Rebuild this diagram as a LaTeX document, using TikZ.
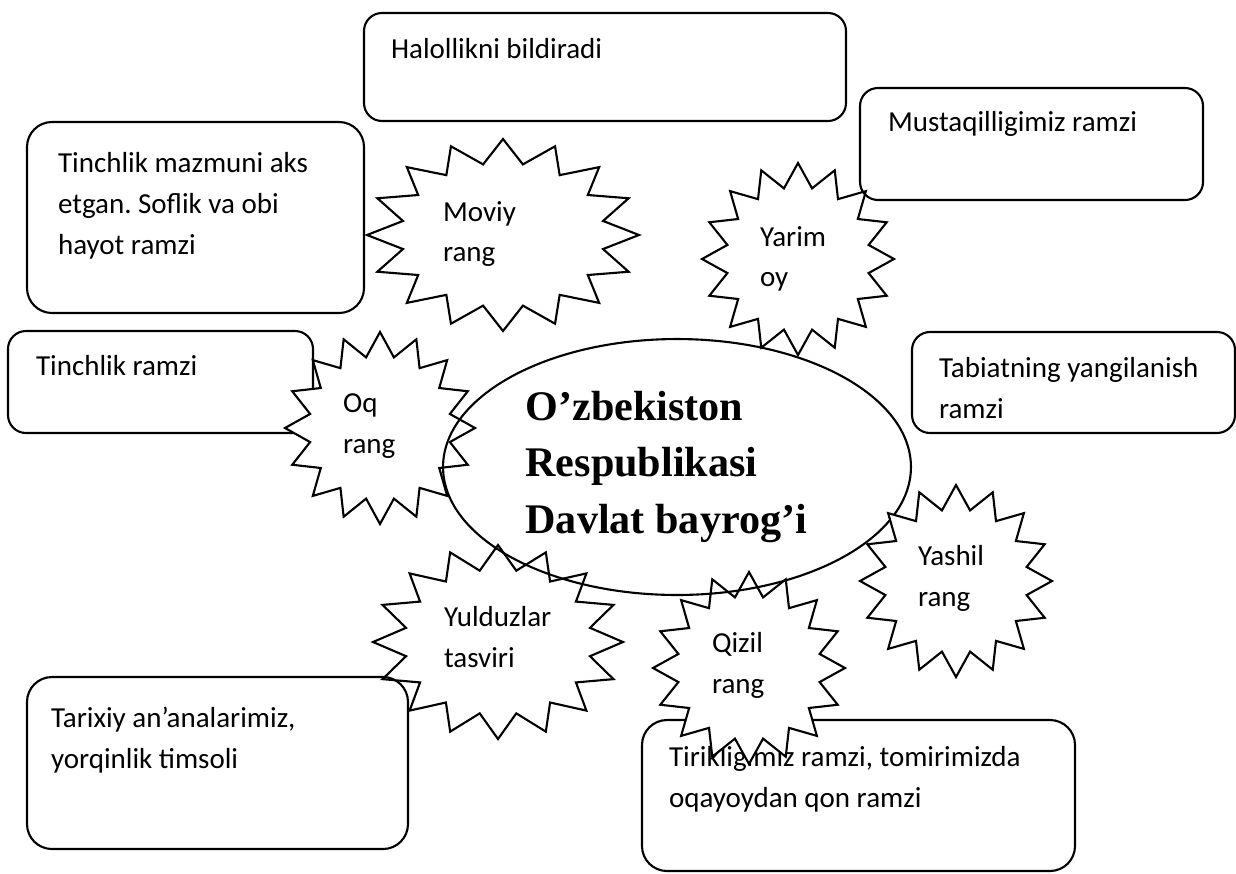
\documentclass[tikz,border=0pt]{standalone}
\usepackage{fontspec}
\setmainfont{Carlito}
\newfontfamily\titlefont{Liberation Serif}
\usepackage{tikz}
\usetikzlibrary{positioning,fit,shapes.geometric}
\frenchspacing

% 16-point star: [options]{centre}{x radius}{y radius}
\newcommand{\burst}[4][]{%
  \draw[burstline,#1,shift={#2}] (90:#3 and #4)
    \foreach \k [evaluate=\k as \f using {ifthenelse(mod(\k,2)==1,0.75,1)}] in {1,...,31} {
      -- (90+\k*11.25:\f*#3 and \f*#4)}
    -- cycle;}

\begin{document}
\begin{tikzpicture}[
    x=0.02cm, y=-0.02cm,
    line width=1.2pt,
    note/.style={draw, rounded corners=0.36cm, inner sep=0pt},
    bignote/.style={note, rounded corners=0.5cm},
    txt/.style={font=\fontsize{16.5}{23.3}\selectfont, align=left, inner sep=0pt, anchor=north west},
    burstline/.style={line join=miter},
    flagbox/.style={ellipse, draw, minimum width=9.36cm, minimum height=5.12cm, inner sep=0pt,
        text width=6.06cm, align=flush left, font=\titlefont\bfseries\fontsize{24}{31.9}\selectfont}
]
\useasboundingbox (0,0) rectangle (1236,873);

% Meaning boxes
\node[note, fit={(364,13) (846,121)}] (halol) {};
\node[txt] (halol-t) at (390,37) {Halollikni bildiradi};

\node[bignote, fit={(27,122) (364,313)}] (mazmun) {};
\node[txt] (mazmun-t) at (57,151) {Tinchlik mazmuni aks\\etgan. Soflik va obi\\hayot ramzi};

\node[note, fit={(8,331) (313,433)}] (tinch) {};
\node[txt] (tinch-t) at (35,354) {Tinchlik ramzi};

\node[note, fit={(860,88) (1203,200)}] (mustaqil) {};
\node[txt] (mustaqil-t) at (887,110) {Mustaqilligimiz ramzi};

\node[note, fit={(912,332) (1235,433)}] (tabiat) {};
\node[txt] (tabiat-t) at (938,356) {Tabiatning yangilanish\\ramzi};

\node[bignote, fit={(27,677) (408,849)}] (tarix) {};
\node[txt] (tarix-t) at (50,706) {Tarixiy an’analarimiz,\\yorqinlik timsoli};

\node[bignote, fit={(642,720) (1075,871)}] (tiriklik) {};
\node[txt] (tiriklik-t) at (668,745) {Tirikligimiz ramzi, tomirimizda\\oqayoydan qon ramzi};

% Stars lying over the boxes
\burst[fill=white]{(380,428)}{95}{96}
\burst[fill=white]{(749,668)}{96}{96}

% Centre
\node[flagbox] (flag) at (677,467) {O’zbekiston\\Respublikasi\\Davlat bayrog’i};

% Other stars
\burst[fill=white]{(503,235)}{136}{96}
\burst{(798,259)}{96}{96}
\burst{(498,642)}{125}{97}
\burst[fill=white]{(956,581)}{96}{96}

% Star labels
\node[txt] (moviy) at (442,200) {Moviy\\rang};
\node[txt] (yarim) at (759,225) {Yarim\\oy};
\node[txt] (oq) at (342,393) {Oq\\rang};
\node[txt] (yulduz) at (443,605) {Yulduzlar\\tasviri};
\node[txt] (qizil) at (711,631) {Qizil\\rang};
\node[txt] (yashil) at (917,544) {Yashil\\rang};

\end{tikzpicture}
\end{document}
